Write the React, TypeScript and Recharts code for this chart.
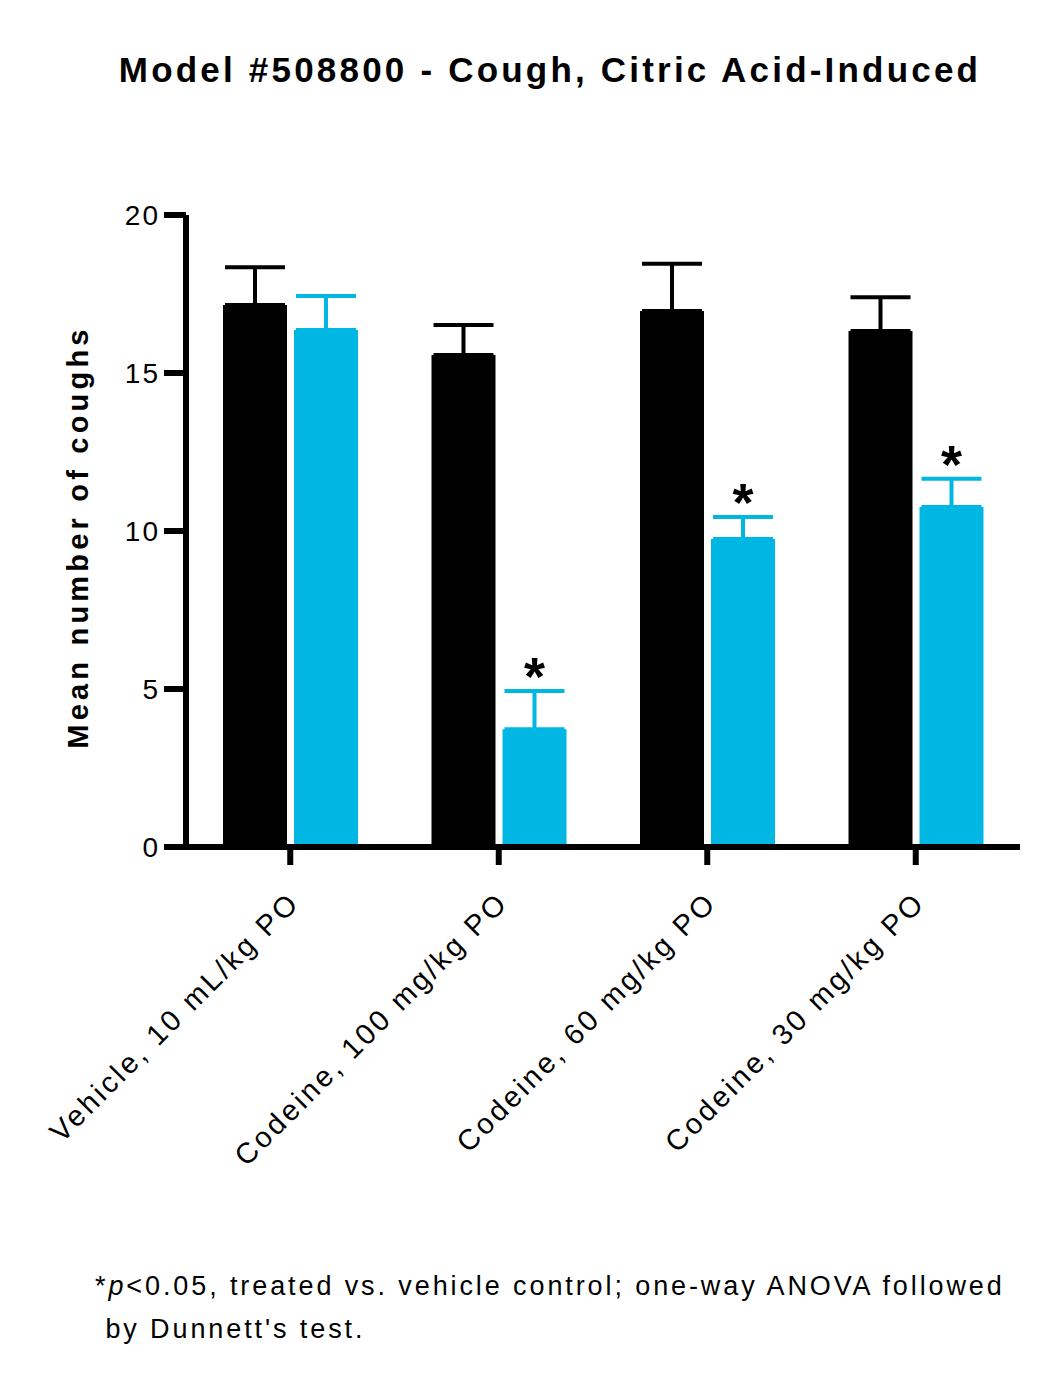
import { BarChart, Bar, XAxis, YAxis, ErrorBar, LabelList } from "recharts";

const categories = ["Vehicle, 10 mL/kg PO", "Codeine, 100 mg/kg PO", "Codeine, 60 mg/kg PO", "Codeine, 30 mg/kg PO"];
const preValues = [17.15, 15.57, 16.96, 16.33];
const preErrors = [1.2, 0.95, 1.5, 1.07];
const postValues = [16.36, 3.73, 9.75, 10.76];
const postErrors = [1.08, 1.21, 0.69, 0.89];
const significant = [false, true, true, true];
const yTicks = [0, 5, 10, 15, 20];

const data = categories.map((name, i) => ({
  name,
  pre: preValues[i],
  preErr: [0, preErrors[i]],
  post: postValues[i],
  postErr: [0, postErrors[i]],
  sig: significant[i] ? "*" : "",
}));

const BLUE = "#00b7e4";
const FONT = "'Liberation Sans', Arial, sans-serif";

const XTick = (props: any) => {
  const { x, y, payload } = props;
  return (
    <g transform={`translate(${x + 4},${y + 30})`}>
      <text transform="rotate(-45)" textAnchor="end" fontSize={29} letterSpacing={3} fontFamily={FONT} fill="#000" dy={10}>
        {payload.value}
      </text>
    </g>
  );
};

const Star = (props: any) => {
  const { x, y, width, height, value, index } = props;
  if (!value) return null;
  const scale = height / postValues[index];
  const top = y - postErrors[index] * scale;
  return (
    <text x={x + width / 2} y={top + 4} textAnchor="middle" fontSize={54} fontWeight="bold" fontFamily={FONT} fill="#000">
      *
    </text>
  );
};

export default function App() {
  return (
    <div style={{ position: "absolute", left: 0, top: 0, width: 1050, height: 1392, background: "#fff", fontFamily: FONT }}>
      <div style={{ position: "absolute", top: 50, left: 0, width: 1100, textAlign: "center", fontSize: 35, fontWeight: "bold", letterSpacing: 3.2 }}>
        Model #508800 - Cough, Citric Acid-Induced
      </div>
      <div
        style={{
          position: "absolute", left: 78, top: 537, fontSize: 29, fontWeight: "bold", whiteSpace: "nowrap", letterSpacing: 4.2,
          transform: "translate(-50%, -50%) rotate(-90deg)",
        }}
      >
        Mean number of coughs
      </div>
      <BarChart
        width={1050}
        height={1392}
        data={data}
        margin={{ top: 215, right: 30, left: 0, bottom: 345 }}
        barCategoryGap={36}
        barGap={7}
      >
        <YAxis
          width={186}
          domain={[0, 20]}
          ticks={yTicks}
          interval={0}
          stroke="#000"
          strokeWidth={6}
          tickSize={22}
          tick={{ fontSize: 28, fontFamily: FONT, fill: "#000", letterSpacing: 2 }}
          tickMargin={4}
        />
        <XAxis
          dataKey="name"
          height={200}
          stroke="#000"
          strokeWidth={6}
          tickSize={18}
          tick={<XTick />}
          interval={0}
        />
        <Bar dataKey="pre" fill="#000" barSize={64} isAnimationActive={false}>
          <ErrorBar dataKey="preErr" width={30} stroke="#000" strokeWidth={4} direction="y" />
        </Bar>
        <Bar dataKey="post" fill={BLUE} barSize={64} isAnimationActive={false}>
          <ErrorBar dataKey="postErr" width={30} stroke={BLUE} strokeWidth={4} direction="y" />
          <LabelList dataKey="sig" content={<Star />} />
        </Bar>
      </BarChart>
      <div style={{ position: "absolute", left: 95, top: 1265, fontSize: 27, lineHeight: "43px", letterSpacing: 2.9 }}>
        *<i>p</i>&lt;0.05, treated vs. vehicle control; one-way ANOVA followed
        <br />
        &nbsp;by Dunnett's test.
      </div>
    </div>
  );
}
